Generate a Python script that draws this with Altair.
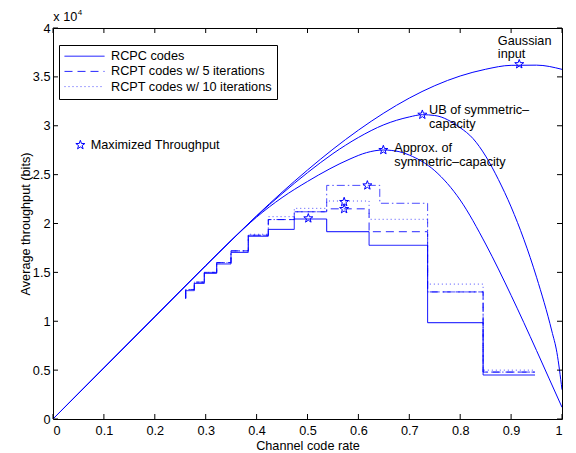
import math
import altair as alt
import pandas as pd

# ---------------- data (throughput in units of 1e4 bits) ----------------
x_ticks = [0, 0.1, 0.2, 0.3, 0.4, 0.5, 0.6, 0.7, 0.8, 0.9, 1.0]
y_ticks = [0, 0.5, 1, 1.5, 2, 2.5, 3, 3.5, 4]

gauss_x = [0, 0.1, 0.2, 0.3, 0.35, 0.4, 0.45, 0.5, 0.55, 0.6, 0.65, 0.7, 0.75, 0.8, 0.85, 0.9, 0.95, 1.0]
gauss_y = [0, 0.523, 1.046, 1.569, 1.827, 2.079, 2.32, 2.547, 2.76, 2.955, 3.13, 3.283, 3.41, 3.509, 3.578, 3.618, 3.62, 3.577]

ub_x = [0, 0.1, 0.2, 0.3, 0.35, 0.4, 0.45, 0.5, 0.55, 0.6, 0.65, 0.7, 0.7256, 0.75, 0.8, 0.825, 0.85, 0.875, 0.9, 0.95, 0.98, 0.99, 1.0]
ub_y = [0, 0.523, 1.046, 1.569, 1.826, 2.075, 2.305, 2.52, 2.715, 2.88, 3.01, 3.09, 3.113, 3.105, 2.98, 2.87, 2.69, 2.45, 2.17, 1.45, 0.90, 0.68, 0.30]

approx_x = [0, 0.1, 0.2, 0.3, 0.35, 0.4, 0.45, 0.5, 0.544, 0.5835, 0.616, 0.649, 0.68, 0.7, 0.75, 0.8, 0.85, 0.9, 0.95, 0.975, 1.0]
approx_y = [0, 0.523, 1.046, 1.569, 1.825, 2.065, 2.265, 2.43, 2.56, 2.66, 2.725, 2.752, 2.735, 2.70, 2.54, 2.24, 1.79, 1.265, 0.70, 0.41, 0.12]

rcpc_x = [0.2607, 0.2607, 0.2776, 0.2973, 0.3216, 0.3497, 0.3837, 0.423, 0.474, 0.5377, 0.621, 0.736, 0.845, 0.947]
rcpc_y = [1.228, 1.313, 1.388, 1.491, 1.586, 1.705, 1.87, 1.94, 2.046, 1.916, 1.777, 0.985, 0.45, 0.45]

rcpt5_x = [0.2607, 0.2607, 0.2776, 0.2973, 0.3216, 0.3497, 0.3837, 0.423, 0.474, 0.5377, 0.621, 0.736, 0.845, 0.947]
rcpt5_y = [1.24, 1.325, 1.40, 1.50, 1.60, 1.72, 1.88, 2.04, 2.12, 2.15, 1.916, 1.30, 0.48, 0.48]

rcpt10_x = [0.2607, 0.2607, 0.2776, 0.2973, 0.3216, 0.3497, 0.3837, 0.423, 0.474, 0.5377, 0.621, 0.736, 0.845, 0.947]
rcpt10_y = [1.24, 1.325, 1.40, 1.50, 1.60, 1.72, 1.89, 2.07, 2.155, 2.23, 2.043, 1.38, 0.50, 0.50]

dd_x = [0.2607, 0.2607, 0.2776, 0.2973, 0.3216, 0.3497, 0.3837, 0.423, 0.474, 0.5377, 0.642, 0.736, 0.845, 0.947]
dd_y = [1.24, 1.325, 1.40, 1.50, 1.60, 1.72, 1.88, 2.04, 2.12, 2.39, 2.207, 1.30, 0.48, 0.48]

star_x = [0.916, 0.7256, 0.649, 0.6176, 0.572, 0.572, 0.5016]
star_y = [3.63, 3.113, 2.752, 2.39, 2.22, 2.148, 2.053]

legend_names = ["RCPC codes", "RCPT codes w/ 5 iterations", "RCPT codes w/ 10 iterations"]

ann_text = ["Gaussian", "input", "UB of symmetric\u2013", "capacity", "Approx. of", "symmetric\u2013capacity"]
ann_x = [0.874, 0.874, 0.7387, 0.7387, 0.6705, 0.6705]
ann_y = [3.83, 3.69, 3.12, 2.98, 2.727, 2.584]

# ---------------- styling ----------------
W, H = 509, 391
FONT = "Liberation Sans"
FS = 12.7
BLUE = "#0000ff"
RCPT_OPACITY = 0.7

star_pts = []
for k in range(10):
    r = 1.0 if k % 2 == 0 else 0.4
    a = math.radians(-90 + 36 * k)
    star_pts.append(f"{r*math.cos(a):.3f},{r*math.sin(a):.3f}")
STAR = "M" + "L".join(star_pts) + "Z"

xs = alt.Scale(domain=[0, 1], nice=False, zero=False)
ys = alt.Scale(domain=[0, 4], nice=False, zero=False)


def series_df(name, xv, yv):
    return pd.DataFrame({"series": name, "x": xv, "y": yv, "i": range(len(xv))})


curves = pd.concat([
    series_df("gauss", gauss_x, gauss_y),
    series_df("ub", ub_x, ub_y),
    series_df("approx", approx_x, approx_y),
])
steps = pd.concat([
    series_df(legend_names[0], rcpc_x, rcpc_y),
    series_df(legend_names[1], rcpt5_x, rcpt5_y),
    series_df(legend_names[2], rcpt10_x, rcpt10_y),
])
dd = series_df("dd", dd_x, dd_y)
stars = pd.DataFrame({"x": star_x, "y": star_y, "lbl": "Maximized Throughput"})
ann = pd.DataFrame({"t": ann_text, "x": ann_x, "y": ann_y})
xt = pd.DataFrame({"v": x_ticks})
yt = pd.DataFrame({"v": y_ticks})

X = alt.X("x:Q", scale=xs, title="Channel code rate",
          axis=alt.Axis(values=x_ticks, format="~g"))
Y = alt.Y("y:Q", scale=ys, title="Average throughput (bits)",
          axis=alt.Axis(values=y_ticks, format="~g"))

curve_layer = alt.Chart(curves).mark_line(
    interpolate="monotone", color=BLUE, strokeWidth=1, clip=True
).encode(x=X, y=Y, detail="series:N", order="i:Q")

step_layer = alt.Chart(steps).mark_line(
    interpolate="step-after", color=BLUE, strokeWidth=1
).encode(
    x="x:Q", y="y:Q", order="i:Q",
    opacity=alt.Opacity("series:N", scale=alt.Scale(domain=legend_names, range=[1, RCPT_OPACITY, RCPT_OPACITY]),
                        legend=None),
    strokeDash=alt.StrokeDash(
        "series:N",
        scale=alt.Scale(domain=legend_names, range=[[1, 0], [8, 5], [1, 3]]),
        legend=alt.Legend(
            title=None, orient="none", legendX=6, legendY=17,
            symbolType="stroke", symbolSize=1600, symbolStrokeWidth=1,
            symbolStrokeColor=BLUE, symbolOpacity=0.75, strokeColor="black", fillColor="white",
            padding=5, rowPadding=2.2, clipHeight=12.4, labelOffset=6, labelLimit=400,
            labelFont=FONT, labelFontSize=FS, labelColor="black",
        ),
    ),
)

dd_layer = alt.Chart(dd).mark_line(
    interpolate="step-after", color=BLUE, strokeWidth=1, strokeDash=[8, 3, 1.5, 3],
    opacity=RCPT_OPACITY,
).encode(x="x:Q", y="y:Q", order="i:Q")

star_layer = alt.Chart(stars).mark_point(
    filled=False, color=BLUE, strokeWidth=1, size=90, opacity=1
).encode(
    x="x:Q", y="y:Q",
    shape=alt.Shape("lbl:N", scale=alt.Scale(range=[STAR]),
                    legend=alt.Legend(title=None, orient="none", legendX=21, legendY=110,
                                      symbolSize=90, symbolStrokeColor=BLUE,
                                      symbolFillColor="transparent", symbolStrokeWidth=1,
                                      padding=0, clipHeight=14, labelOffset=4, labelLimit=400,
                                      labelFont=FONT, labelFontSize=FS, labelColor="black")),
)

ann_layer = alt.Chart(ann).mark_text(
    align="left", baseline="alphabetic", font=FONT, fontSize=FS, color="black"
).encode(x="x:Q", y="y:Q", text="t:N")

tick_style = dict(color="black", strokeWidth=1)
xt_bottom = alt.Chart(xt).mark_rule(**tick_style).encode(x="v:Q", y=alt.value(H), y2=alt.value(H - 5))
xt_top = alt.Chart(xt).mark_rule(**tick_style).encode(x="v:Q", y=alt.value(0), y2=alt.value(5))
yt_left = alt.Chart(yt).mark_rule(**tick_style).encode(y="v:Q", x=alt.value(0), x2=alt.value(5))
yt_right = alt.Chart(yt).mark_rule(**tick_style).encode(y="v:Q", x=alt.value(W), x2=alt.value(W - 5))

exp_base = alt.Chart(pd.DataFrame({"t": ["x 10"]})).mark_text(
    align="left", baseline="alphabetic", font=FONT, fontSize=FS, color="black"
).encode(text="t:N", x=alt.value(0.3), y=alt.value(-7.3))
exp_sup = alt.Chart(pd.DataFrame({"t": ["4"]})).mark_text(
    align="left", baseline="alphabetic", font=FONT, fontSize=8, color="black"
).encode(text="t:N", x=alt.value(24.8), y=alt.value(-13))

chart = alt.layer(
    curve_layer, step_layer, dd_layer, star_layer, ann_layer,
    xt_bottom, xt_top, yt_left, yt_right, exp_base, exp_sup,
).resolve_scale(shape="independent", strokeDash="independent", opacity="independent").properties(
    width=W, height=H,
    autosize=alt.AutoSizeParams(type="none"),
    padding={"left": 45, "top": 20, "right": 6, "bottom": 34},
).configure(
    background="white",
).configure_view(
    stroke="black", strokeWidth=1,
).configure_axis(
    grid=False, ticks=False, tickSize=0, domain=False,
    labelFont=FONT, labelFontSize=FS, labelColor="black",
    titleFont=FONT, titleFontSize=FS, titleColor="black", titleFontWeight="normal",
).configure_axisX(
    labelPadding=5, titlePadding=3,
).configure_axisY(
    labelPadding=3, titlePadding=0,
)

chart.save("out.html", embed_options={"renderer": "svg", "actions": False})
